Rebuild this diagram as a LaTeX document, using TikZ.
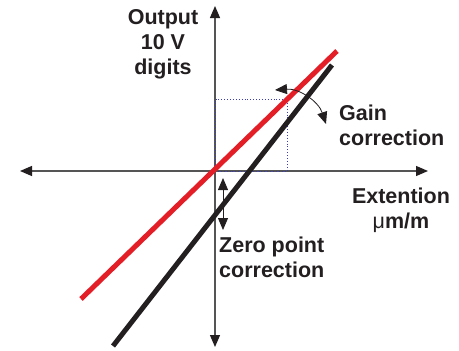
\documentclass[tikz,border=0pt]{standalone}
\usepackage{fontspec}
\setmainfont{Liberation Sans}
\usetikzlibrary{arrows.meta,positioning}
\definecolor{Ink}{HTML}{231F20}
\definecolor{Axis}{HTML}{555555}
\definecolor{Gainred}{HTML}{E41E26}
\definecolor{Grid}{HTML}{3C3CB4}
\tikzset{
  axis/.style={{Triangle[length=12pt,width=10pt,color=Ink]}-{Triangle[length=12pt,width=10pt,color=Ink]},draw=Axis,line width=1.3pt},
  curve/.style={line width=5pt},
  guide/.style={draw=Grid,dotted,line width=.9pt},
  corr/.style={{Triangle[length=12pt,width=10pt]}-{Triangle[length=12pt,width=10pt]},draw=Ink,line width=.8pt},
  lab/.style={font=\fontsize{21.5}{25}\selectfont\bfseries,text=Ink,inner sep=0pt,align=center}
}

\begin{document}
\begin{tikzpicture}[x=1pt,y=-1pt]
  \useasboundingbox (0,0) rectangle (459,351);
  % axes
  \coordinate (o) at (215,171);
  \coordinate (xl) at (20,171); \coordinate (xr) at (428,171);
  \coordinate (yt) at (215,6);  \coordinate (yb) at (215,347);
  \draw[axis] (xl)--(xr);
  \draw[axis] (yb)--(yt);
  % dotted box
  \coordinate (q) at (287,99);
  \draw[guide] (o) rectangle (q);
  % characteristic lines
  \coordinate (r1) at (81,299); \coordinate (r2) at (337,51);
  \coordinate (b1) at (113,346); \coordinate (b2) at (332,65);
  \draw[curve,draw=Gainred] (r1)--(r2);
  \draw[curve,draw=Ink] (b1)--(b2);
  % corrections
  \coordinate (g1) at (275,90); \coordinate (g2) at (326,124);
  \draw[corr] (g1) to[bend left=38] (g2);
  \coordinate (z1) at (223,178); \coordinate (z2) at (223,230);
  \draw[corr] (z1)--(z2);
  % labels
  \node[lab] (out) at (163,44) {Output\\10 V\\digits};
  \node[lab,align=left,anchor=west] (gain) at (339,125) {Gain\\correction};
  \node[lab] (ext) at (401,210) {Extention\\{\mdseries μ}m/m};
  \node[lab,align=left,anchor=west] (zero) at (219,257) {Zero point\\correction};
\end{tikzpicture}
\end{document}
